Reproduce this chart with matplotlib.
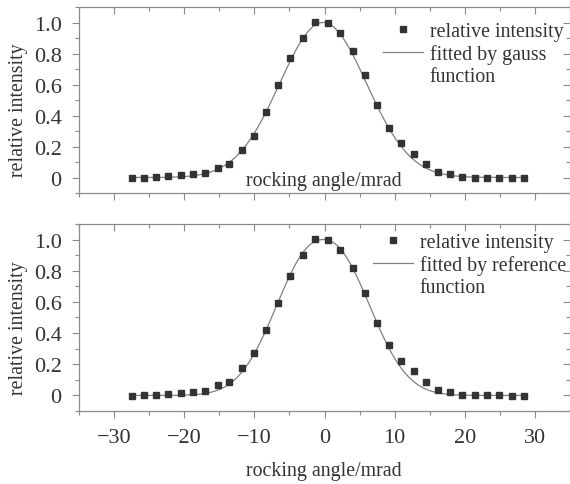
import numpy as np
import matplotlib
matplotlib.use('Agg')
import matplotlib.pyplot as plt
from matplotlib.lines import Line2D
from matplotlib.ticker import MultipleLocator

plt.rcParams['font.family'] = ['Liberation Serif', 'DejaVu Serif']
plt.rcParams['font.size'] = 14.3
plt.rcParams['axes.unicode_minus'] = True

# measured rocking curve (same points in both panels)
angle = [-27.4, -25.7, -24.0, -22.3, -20.4, -18.7, -17.0, -15.2, -13.6, -11.7,
         -10.0, -8.3, -6.6, -4.9, -3.0, -1.3, 0.5, 2.2, 4.0, 5.8, 7.5, 9.2,
         10.9, 12.7, 14.4, 16.2, 17.9, 19.6, 21.4, 23.2, 24.9, 26.7, 28.5]
intensity = [-0.004, 0.0, 0.004, 0.008, 0.013, 0.02, 0.03, 0.064, 0.084, 0.177,
             0.27, 0.42, 0.596, 0.768, 0.902, 1.004, 0.998, 0.932, 0.817, 0.66,
             0.466, 0.322, 0.222, 0.154, 0.084, 0.038, 0.024, 0.005, 0.0, 0.0,
             0.0, -0.003, -0.003]

# fit parameters
gauss_center, gauss_sigma = -0.2, 6.2
ref_center, ref_halfwidth, ref_power = -0.2, 7.35, 2.22

fit_x = np.linspace(-27.4, 28.5, 400)
gauss_y = np.exp(-(fit_x - gauss_center) ** 2 / (2 * gauss_sigma ** 2))
ref_y = np.exp(-np.log(2) * (np.abs(fit_x - ref_center) / ref_halfwidth) ** ref_power)

xticks = [-30, -20, -10, 0, 10, 20, 30]
yticks = [0, 0.2, 0.4, 0.6, 0.8, 1.0]
ytick_labels = ['0', '0.2', '0.4', '0.6', '0.8', '1.0']

spine_c = '#8a8a8a'
text_c = '#333333'
mark_c = '#333333'
line_c = '#808080'

fig = plt.figure(figsize=(5.7, 4.85), dpi=100)
ax1 = fig.add_axes([0.1386, 0.600, 0.8614, 0.3835])
ax2 = fig.add_axes([0.1386, 0.1505, 0.8614, 0.3856])

panels = [(ax1, gauss_y, 'fitted by gauss'), (ax2, ref_y, 'fitted by reference')]
for ax, fit_y, fit_label in panels:
    ax.plot(fit_x, fit_y, color=line_c, lw=0.9)
    ax.plot(angle, intensity, 's', color=mark_c, ms=4.6, mec=mark_c)
    ax.set_xlim(-35, 35)
    ax.set_ylim(-0.1, 1.1)
    ax.set_xticks(xticks)
    ax.set_yticks(yticks)
    ax.set_yticklabels(ytick_labels)
    ax.xaxis.set_minor_locator(MultipleLocator(5))
    ax.yaxis.set_minor_locator(MultipleLocator(0.1))
    for s in ['left', 'top', 'bottom']:
        ax.spines[s].set_color(spine_c)
        ax.spines[s].set_linewidth(0.9)
    ax.spines['right'].set_visible(False)
    ax.tick_params(which='both', top=True, right=True, color=spine_c,
                   labelcolor=text_c, width=0.8, direction='out',
                   labelsize=16)
    ax.tick_params(which='major', length=5, pad=7.5)
    ax.tick_params(which='minor', length=3)
    ax.set_ylabel('relative intensity', color=text_c)
    ax.yaxis.set_label_coords(-0.104, 0.45)

    handles = [Line2D([], [], ls='none', marker='s', color=mark_c, ms=4.6),
               Line2D([], [], color=line_c, lw=0.9),
               Line2D([], [], ls='none')]
    ax.legend(handles, ['relative intensity', fit_label, 'function'],
              frameon=False, loc='upper left', borderpad=0, borderaxespad=0,
              handlelength=2.0, handletextpad=0.35, labelspacing=0.15,
              labelcolor=text_c)

# top/right ticks point inward, left/bottom outward
for ax in (ax1, ax2):
    for minor in (False, True):
        for tl in ax.xaxis.get_ticklines(minor=minor)[1::2]:
            tl.set_marker(3)
        for tl in ax.yaxis.get_ticklines(minor=minor)[1::2]:
            tl.set_marker(0)

ax1.get_legend().set_bbox_to_anchor((0.619, 0.92))
ax2.get_legend().set_bbox_to_anchor((0.599, 0.95))

ax1.tick_params(axis='x', labelbottom=False)
ax1.text(0.499, 0.066, 'rocking angle/mrad', transform=ax1.transAxes,
         ha='center', va='center', color=text_c)

ax2.set_xlabel('rocking angle/mrad', color=text_c)
ax2.xaxis.set_label_coords(0.499, -0.265)

fig.savefig('out.png', dpi=100)
